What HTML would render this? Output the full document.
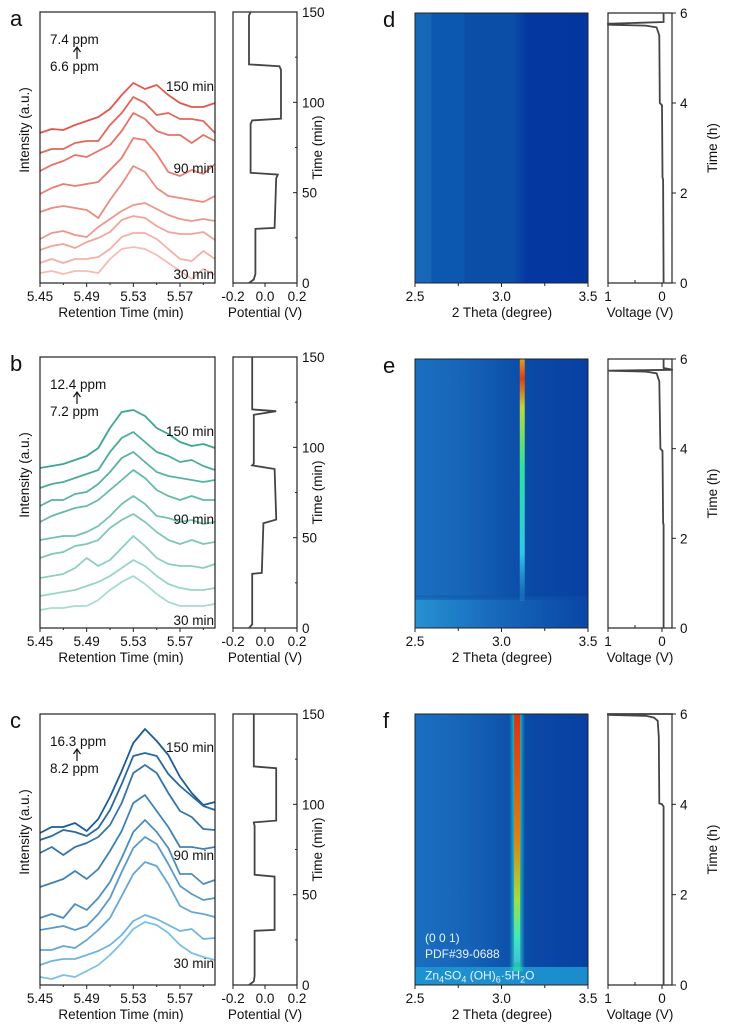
<!DOCTYPE html>
<html><head><meta charset="utf-8"><style>
body{margin:0;background:#fff;}
svg{display:block;font-family:"Liberation Sans",Arial,sans-serif;}
text{fill:#111;}
</style></head><body>
<svg id="fig" width="737" height="1035" viewBox="0 0 737 1035" xmlns="http://www.w3.org/2000/svg">
<defs>
<linearGradient id="bgD" x1="0" x2="1" y1="0" y2="0">
<stop offset="0" stop-color="#1868ba"/><stop offset="0.09" stop-color="#1868ba"/><stop offset="0.1" stop-color="#0c58b0"/><stop offset="0.28" stop-color="#0c58b0"/><stop offset="0.29" stop-color="#0a4ea8"/><stop offset="0.57" stop-color="#0a4ea8"/><stop offset="0.6" stop-color="#0845a5"/><stop offset="0.65" stop-color="#0438a0"/><stop offset="1" stop-color="#0436a0"/>
</linearGradient>
<linearGradient id="bgE" x1="0" x2="1" y1="0" y2="0">
<stop offset="0" stop-color="#1a6fc0"/><stop offset="0.3" stop-color="#1663b8"/><stop offset="0.5" stop-color="#0f55ad"/><stop offset="0.7" stop-color="#0a48a6"/><stop offset="1" stop-color="#0840a2"/>
</linearGradient>
<linearGradient id="botE" x1="0" x2="1" y1="0" y2="0">
<stop offset="0" stop-color="#2b9ad6"/><stop offset="0.4" stop-color="#1a73c2"/><stop offset="1" stop-color="#0a48a6"/>
</linearGradient>
<linearGradient id="pkE" x1="0" x2="0" y1="0" y2="1">
<stop offset="0" stop-color="#e0a020"/><stop offset="0.08" stop-color="#d84018"/><stop offset="0.2" stop-color="#b8d840"/><stop offset="0.45" stop-color="#30e0a0"/><stop offset="0.8" stop-color="#30c8e8"/><stop offset="1" stop-color="#2a90d8" stop-opacity="0.3"/>
</linearGradient>
<linearGradient id="pkF" x1="0" x2="0" y1="0" y2="1">
<stop offset="0" stop-color="#e03010"/><stop offset="0.5" stop-color="#e08010"/><stop offset="0.75" stop-color="#a0e040"/><stop offset="0.9" stop-color="#40e8c0"/><stop offset="1" stop-color="#40c0e0"/>
</linearGradient>
<linearGradient id="glowF" x1="0" x2="1" y1="0" y2="0">
<stop offset="0" stop-color="#20c0e0" stop-opacity="0"/><stop offset="0.35" stop-color="#30e0b0"/><stop offset="0.65" stop-color="#30e0b0"/><stop offset="1" stop-color="#20c0e0" stop-opacity="0"/>
</linearGradient>
</defs>
</svg>
<script>
// ---------- data ----------
const retTimes = [5.45,5.46,5.47,5.48,5.49,5.50,5.51,5.52,5.53,5.54,5.55,5.56,5.57,5.58,5.59,5.60];
const curvesA = [
 [0,4,3,8,12,16,24,38,50,44,48,38,30,26,26,30],
 [0,4,4,10,12,12,28,40,56,50,38,40,34,34,32,20],
 [0,6,10,16,14,20,26,40,58,52,40,36,36,28,36,30],
 [0,6,10,8,10,12,24,36,56,54,40,22,18,24,20,30],
 [0,4,6,4,2,-6,12,28,46,40,24,16,14,12,10,16],
 [0,6,8,4,2,12,20,28,34,36,30,24,20,18,20,18],
 [0,4,6,2,8,12,18,30,34,32,24,18,16,16,18,10],
 [0,4,0,4,4,6,14,26,30,30,24,14,4,2,12,4],
 [0,2,-1,2,2,0,14,24,26,24,18,10,2,-6,4,-2]];
const baseA = [133,153,171,194,212,239,250,263,273];
const curvesB = [
 [0,2,4,8,12,20,40,56,58,52,40,34,26,22,24,20],
 [0,4,6,10,14,18,36,50,56,46,36,32,26,28,22,18],
 [0,6,6,12,14,22,34,48,54,44,34,30,28,26,24,26],
 [0,6,10,14,16,22,32,42,52,44,32,26,22,26,22,22],
 [0,2,4,4,8,14,24,36,44,36,24,22,18,20,16,18],
 [0,4,6,12,14,18,30,38,44,36,26,18,14,18,14,16],
 [0,2,4,10,20,12,18,30,42,32,20,14,12,12,10,14],
 [0,2,4,6,10,14,20,28,36,30,20,12,8,6,6,8],
 [0,2,2,4,4,10,20,28,34,26,16,8,4,4,4,6]];
const baseB = [468,488,506,522,540,558,578,596,610];
const curvesC = [
 [0,6,6,10,2,14,36,62,90,104,92,78,56,40,28,31],
 [0,4,10,8,4,12,30,56,84,87,84,66,54,44,34,30],
 [0,6,-2,6,10,16,28,50,80,88,80,60,42,36,24,23],
 [0,4,8,16,8,18,36,56,84,92,76,60,40,40,38,40],
 [0,4,0,14,8,20,36,60,86,98,86,70,44,44,34,38],
 [0,2,4,0,4,16,32,58,82,93,86,66,44,36,30,32],
 [0,0,4,2,10,20,32,54,76,88,84,66,44,38,36,33],
 [0,4,6,6,10,14,20,30,44,50,46,40,34,36,26,27],
 [0,-2,2,0,6,12,22,34,48,55,52,44,32,24,20,17]];
const baseC = [833,840,853,887,918,930,950,965,977];
const potTimes = [0,2,5,30,30.5,58,60,61,88,90,91,118,120,121,148,150];
const potA = [-0.1,-0.07,-0.06,-0.06,0.06,0.07,0.08,-0.09,-0.09,-0.08,0.1,0.1,0.09,-0.1,-0.1,-0.09];
const potB = [-0.1,-0.08,-0.08,-0.08,-0.02,-0.01,0.07,0.07,0.06,-0.08,-0.07,-0.07,0.07,-0.08,-0.08,-0.08];
const potC = [-0.1,-0.07,-0.065,-0.065,0.06,0.06,0.06,-0.065,-0.065,-0.07,0.07,0.07,0.07,-0.07,-0.07,-0.07];
const voltTimes = [0,2.3,2.35,3.95,4.0,5.5,5.68,5.72,5.74,5.76,5.8,6.0];
const voltD = [-0.03,-0.02,-0.01,0,0.04,0.05,0.1,0.3,1.0,1.0,-0.03,-0.03];
const voltE = [-0.03,-0.03,-0.02,-0.01,0.03,0.05,0.1,0.3,1.0,-0.2,-0.03,-0.03];
const voltTimesF = [0,3.95,4.0,4.02,5.5,5.85,5.92,5.96,5.98,6.0,6.0,6.0];
const voltF = [-0.03,-0.03,0.0,0.05,0.06,0.08,0.15,0.3,1.0,1.0,-0.2,-0.2];
const curveLabels = ["150 min","90 min","30 min"];
const ppmA = ["7.4 ppm","6.6 ppm"], ppmB = ["12.4 ppm","7.2 ppm"], ppmC = ["16.3 ppm","8.2 ppm"];
const retTicks = [5.45,5.49,5.53,5.57];
const potTicks = [-0.2,0.0,0.2];
const minTicks = [0,50,100,150];
const thetaTicks = [2.5,3.0,3.5];
const hTicks = [0,2,4,6];
const peakTheta = [null,3.12,3.09];

// ---------- drawing ----------
const NS="http://www.w3.org/2000/svg";
const svg=document.getElementById('fig');
const FS=13.5;
function el(tag,attrs,parent){const e=document.createElementNS(NS,tag);for(const k in attrs)e.setAttribute(k,attrs[k]);(parent||svg).appendChild(e);return e;}
function txt(s,x,y,o,parent){const t=el('text',Object.assign({x:x,y:y,'font-size':FS},o||{}),parent);t.textContent=s;return t;}
function lerpColor(a,b,t){const pa=a.match(/\w\w/g).map(h=>parseInt(h,16)),pb=b.match(/\w\w/g).map(h=>parseInt(h,16));return 'rgb('+pa.map((v,i)=>Math.round(v+(pb[i]-v)*t)).join(',')+')';}

const rows=[
 {top:12,letter:'a',curves:curvesA,base:baseA,c0:'e2584c',c1:'f6bdb2',pot:potA,ppm:ppmA,lab:[91,173,279]},
 {top:357,letter:'b',curves:curvesB,base:baseB,c0:'3ea592',c1:'a6dccf',pot:potB,ppm:ppmB,lab:[436,524,625]},
 {top:714,letter:'c',curves:curvesC,base:baseC,c0:'1d5c96',c1:'7cc0e8',pot:potC,ppm:ppmC,lab:[752,860,968]}];
const H=271;
rows.forEach((r,ri)=>{
  const g=el('g',{});
  
  
  const L=40,R=215,top=r.top,bot=top+H;
  const xs=v=>L+(v-5.45)/0.15*(R-L);
  txt(r.letter,10,top+14,{'font-size':22},g);
  r.curves.forEach((c,i)=>{
    const d=c.map((v,j)=>(j?'L':'M')+xs(retTimes[j]).toFixed(1)+','+(r.base[i]-v).toFixed(1)).join(' ');
    const p=el('path',{d:d,fill:'none',stroke:lerpColor(r.c0,r.c1,i/8),'stroke-width':1.8,'stroke-linejoin':'round'},g);
    
    
  });
  el('rect',{x:L,y:top,width:R-L,height:H,fill:'none',stroke:'#222','stroke-width':1.2},g);
  retTicks.forEach(t=>{el('line',{x1:xs(t),x2:xs(t),y1:bot,y2:bot+4,stroke:'#222'},g);txt(t.toFixed(2),xs(t),bot+18,{'text-anchor':'middle'},g);});
  [5.47,5.51,5.55,5.59].forEach(t=>el('line',{x1:xs(t),x2:xs(t),y1:bot,y2:bot+2,stroke:'#222'},g));
  txt('Retention Time (min)',121,bot+34,{'text-anchor':'middle'},g);
  txt('Intensity (a.u.)',0,0,{'text-anchor':'middle',transform:'translate(29,'+(top+118)+') rotate(-90)'},g);
  txt(r.ppm[0],50,top+32,{},g);
  el('path',{d:`M77,${top+47} L77,${top+36} M73.5,${top+40} L77,${top+35} L80.5,${top+40}`,fill:'none',stroke:'#111','stroke-width':1.2},g);
  txt(r.ppm[1],50,top+59,{},g);
  r.lab.forEach((y,k)=>{const t=txt(curveLabels[k],214,y,{'text-anchor':'end'},g);});
  const pL=233,pR=297;
  const px=v=>pL+(v+0.2)/0.4*(pR-pL);
  const ty=t=>bot-t/150*H;
  el('rect',{x:pL,y:top,width:pR-pL,height:H,fill:'none',stroke:'#222','stroke-width':1.2},g);
  const pd=r.pot.map((v,j)=>(j?'L':'M')+px(v).toFixed(1)+','+ty(potTimes[j]).toFixed(1)).join(' ');
  const pp=el('path',{d:pd,fill:'none',stroke:'#444','stroke-width':1.8},g);
  
  potTicks.forEach(t=>{el('line',{x1:px(t),x2:px(t),y1:bot,y2:bot+4,stroke:'#222'},g);txt(t.toFixed(1),px(t),bot+18,{'text-anchor':'middle'},g);});
  txt('Potential (V)',265,bot+34,{'text-anchor':'middle'},g);
  minTicks.forEach(t=>{el('line',{x1:pR,x2:pR-4,y1:ty(t),y2:ty(t),stroke:'#222'},g);txt(String(t),302,ty(t)+5,{},g);});
  [25,75,125].forEach(t=>el('line',{x1:pR,x2:pR-2,y1:ty(t),y2:ty(t),stroke:'#222'},g));
  txt('Time (min)',0,0,{'text-anchor':'middle',transform:'translate(322,'+(top+H/2)+') rotate(-90)'},g);
});

const hrows=[{top:13,letter:'d',volt:voltD,vt:voltTimes,bg:'bgD'},{top:359,letter:'e',volt:voltE,vt:voltTimes,bg:'bgE'},{top:714,letter:'f',volt:voltF,vt:voltTimesF,bg:'bgE'}];
hrows.forEach((r,ri)=>{
  const g=el('g',{});
  
  
  const L=415,R=588,top=r.top,bot=r.letter==='d'?283:(r.letter==='e'?628:985),h=bot-top;
  const xs=v=>L+(v-2.5)/1.0*(R-L);
  txt(r.letter,383,top+14,{'font-size':22},g);
  const hm=el('rect',{x:L,y:top,width:R-L,height:h,fill:'url(#'+r.bg+')'},g);
  
  const ty=t=>bot-t/6*h;
  if(r.letter==='e'){
    el('rect',{x:L,y:ty(0.7),width:R-L,height:ty(0)-ty(0.7),fill:'url(#botE)',opacity:0.8},g);
    el('rect',{x:L,y:ty(0.72),width:R-L,height:4,fill:'#0a4aa0',opacity:0.5},g);
    const p=el('rect',{x:xs(peakTheta[1])-2.5,y:top,width:5,height:ty(0.6)-top,fill:'url(#pkE)'},g);
    
  }
  if(r.letter==='f'){
    el('rect',{x:L,y:ty(0.4),width:R-L,height:ty(0)-ty(0.4),fill:'#1e96d2',opacity:0.9},g);
    el('rect',{x:xs(peakTheta[2])-8,y:top,width:16,height:ty(0.3)-top,fill:'url(#glowF)',opacity:0.8},g);
    const p=el('rect',{x:xs(peakTheta[2])-3,y:top,width:6,height:ty(0.5)-top,fill:'url(#pkF)'},g);
    
    const o={'font-size':12,style:'fill:#e8f4ff'};
    txt('(0 0 1)',425,ty(0.95),o,g);
    txt('PDF#39-0688',425,ty(0.6),o,g);
    const t=el('text',{x:425,y:ty(0.12),'font-size':12,style:'fill:#e8f4ff'},g);
    t.innerHTML='Zn<tspan dy="3" font-size="9">4</tspan><tspan dy="-3">SO</tspan><tspan dy="3" font-size="9">4</tspan><tspan dy="-3"> (OH)</tspan><tspan dy="3" font-size="9">6</tspan><tspan dy="-3">·5H</tspan><tspan dy="3" font-size="9">2</tspan><tspan dy="-3">O</tspan>';
    
  }
  el('rect',{x:L,y:top,width:R-L,height:h,fill:'none',stroke:'#222','stroke-width':1},g);
  thetaTicks.forEach(t=>{el('line',{x1:xs(t),x2:xs(t),y1:bot,y2:bot+4,stroke:'#222'},g);txt(t.toFixed(1),xs(t),bot+18,{'text-anchor':'middle'},g);});
  [2.75,3.25].forEach(t=>el('line',{x1:xs(t),x2:xs(t),y1:bot,y2:bot+3,stroke:'#222'},g));
  txt('2 Theta (degree)',502,bot+34,{'text-anchor':'middle'},g);
  const vL=608,vR=672;
  const vx=v=>662-v*54;
  el('rect',{x:vL,y:top,width:vR-vL,height:h,fill:'none',stroke:'#222','stroke-width':1.2},g);
  const vd=r.volt.map((v,j)=>(j?'L':'M')+vx(v).toFixed(1)+','+ty(r.vt[j]).toFixed(1)).join(' ');
  const vp=el('path',{d:vd,fill:'none',stroke:'#444','stroke-width':1.8},g);
  
  [[1,'1'],[0,'0']].forEach(([v,s])=>{el('line',{x1:vx(v),x2:vx(v),y1:bot,y2:bot+4,stroke:'#222'},g);txt(s,vx(v),bot+18,{'text-anchor':'middle'},g);});
  el('line',{x1:vx(0.5),x2:vx(0.5),y1:bot,y2:bot-3,stroke:'#222'},g);
  txt('Voltage (V)',640,bot+34,{'text-anchor':'middle'},g);
  hTicks.forEach(t=>{el('line',{x1:vR,x2:vR+4,y1:ty(t),y2:ty(t),stroke:'#222'},g);txt(String(t),680,ty(t)+5,{},g);});
  txt('Time (h)',0,0,{'text-anchor':'middle',transform:'translate(717,'+(top+h/2)+') rotate(-90)'},g);
});
</script>
</body></html>
